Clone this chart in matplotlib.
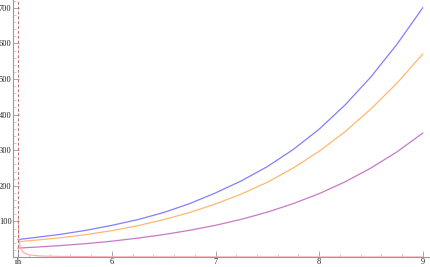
import numpy as np
import matplotlib
matplotlib.use("Agg")
import matplotlib.pyplot as plt
from matplotlib.ticker import MultipleLocator

# horizon position and sampled r values
rh = 5.094
r = [5.094, 5.25, 5.5, 5.75, 6.0, 6.25, 6.5, 6.75, 7.0, 7.25, 7.5, 7.75,
     8.0, 8.25, 8.5, 8.75, 9.0]

blue = [49, 54.5, 63.5, 75, 89, 105, 125, 150, 180, 214, 254, 302,
        359, 427, 506, 597, 700]
orange = [43, 47, 54, 63, 74, 88, 105, 125, 149, 177, 210, 250,
          297, 352, 416, 488, 570]
purple = [25, 27.5, 32, 37.5, 44.5, 53, 63, 75, 89, 106, 126, 150,
          178, 211, 250, 295, 348]

r_pink = [5.096, 5.10, 5.11, 5.12, 5.14, 5.17, 5.2, 5.3, 5.5, 6.0, 7.0, 8.0, 9.0]
pink = [110, 60, 35, 24, 14, 9, 6, 3, 1.5, 0.6, 0.3, 0.2, 0.1]

W, H = 431, 267
fig = plt.figure(figsize=(W / 100, H / 100), dpi=100)
ax = fig.add_axes([13 / W, 10 / H, (W - 13) / W, 257 / H])

ax.plot(r, blue, color="#8080ff", lw=0.9)
ax.plot(r, orange, color="#ffb870", lw=0.9)
ax.plot(r, purple, color="#c878c8", lw=0.9)
ax.plot(r_pink, pink, color="#ffb0b0", lw=0.9)
ax.axvline(rh, color="#b87070", lw=0.7, ls=(0, (3, 2)))

ax.set_xlim(5.045, 9.08)
ax.set_ylim(0, 722)

for s in ("top", "right"):
    ax.spines[s].set_visible(False)
for s in ("left", "bottom"):
    ax.spines[s].set_color("#999999")
    ax.spines[s].set_linewidth(0.8)

ax.set_xticks([rh, 6, 7, 8, 9])
ax.set_xticklabels(["rh", "6", "7", "8", "9"])
ax.xaxis.set_minor_locator(MultipleLocator(0.2))
ax.set_yticks([100, 200, 300, 400, 500, 600, 700])
ax.yaxis.set_minor_locator(MultipleLocator(20))

ax.tick_params(which="major", direction="in", length=4, width=0.6,
               color="#999999", labelsize=6, pad=1)
ax.tick_params(which="minor", direction="in", length=2, width=0.5,
               color="#bbbbbb")
for lab in ax.get_xticklabels() + ax.get_yticklabels():
    lab.set_family("Liberation Serif")
    lab.set_color("#222222")

fig.savefig("out.png", dpi=100)
